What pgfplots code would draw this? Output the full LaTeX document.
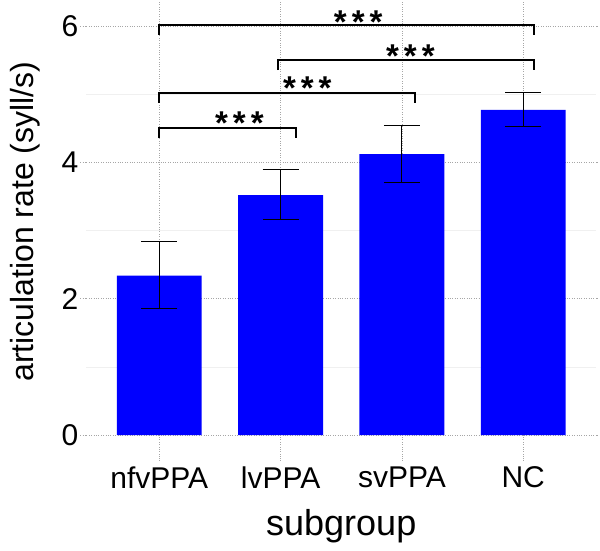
\documentclass[border=0pt]{standalone}
\usepackage{fontspec}
\setmainfont{Liberation Sans}
\usepackage{pgfplots}
\pgfplotsset{compat=1.18}
\newcommand{\stars}{\fontsize{33bp}{34bp}\selectfont\bfseries *\hspace{5bp}*\hspace{5bp}*}
\begin{document}
\begin{tikzpicture}
\useasboundingbox (-86.5bp,-95.9bp) rectangle (513.5bp,454.2bp);
\begin{axis}[
  scale only axis, width=509.5bp, height=454.2bp,
  xmin=0.4, xmax=4.6, ymin=-0.28, ymax=6.38,
  axis line style={draw=none},
  xtick={1,2,3,4}, xticklabels={nfvPPA,lvPPA,svPPA,NC},
  ytick={0,2,4,6}, minor ytick={1,3,5},
  ymajorgrids, yminorgrids, xmajorgrids,
  major grid style={dotted, gray!70, line width=0.7bp},
  minor grid style={gray!12, line width=0.5bp},
  tick align=outside, major tick length=6bp, minor tick length=0bp,
  tick style={dotted, gray!70, line width=0.7bp},
  tick label style={font=\fontsize{30bp}{34bp}\selectfont, text=black},
  /pgf/number format/assume math mode=true,
  xticklabel style={inner sep=2bp, yshift=-4bp},
  yticklabel style={inner sep=2bp},
  xlabel={subgroup}, ylabel={articulation rate (syll/s)},
  xlabel style={font=\fontsize{36bp}{40bp}\selectfont, at={(axis description cs:0.5,0)}, anchor=center, yshift=-72bp},
  ylabel style={font=\fontsize{32bp}{36bp}\selectfont, at={(axis description cs:0,0.512)}, anchor=center, yshift=61.5bp},
  clip=false,
]
\addplot[ybar, bar width=0.7, fill={rgb,255:red,0;green,0;blue,255}, draw=none,
  error bars/.cd, y dir=both, y explicit,
  error mark=|,
  error bar style={draw=black, solid, line width=0.9bp},
  error mark options={draw=black, solid, line width=0.9bp, mark size=18bp}]
  table[x=x, y=y, y error plus=ep, y error minus=em] {
x y ep em
1 2.34 0.50 0.49
2 3.52 0.37 0.36
3 4.12 0.42 0.41
4 4.77 0.26 0.25
};
% significance brackets
\addplot[black, line width=2bp, sharp plot, mark=none] coordinates {(1.0,5.87) (1.0,6.01) (4.09,6.01) (4.09,5.87)};
\addplot[black, line width=2bp, sharp plot, mark=none] coordinates {(1.98,5.35) (1.98,5.50) (4.09,5.50) (4.09,5.35)};
\addplot[black, line width=2bp, sharp plot, mark=none] coordinates {(1.0,4.87) (1.0,5.01) (3.11,5.01) (3.11,4.87)};
\addplot[black, line width=2bp, sharp plot, mark=none] coordinates {(1.0,4.35) (1.0,4.50) (2.13,4.50) (2.13,4.35)};
\node[anchor=north, inner sep=0pt] at (axis cs:2.64,6.23) {\stars};
\node[anchor=north, inner sep=0pt] at (axis cs:3.07,5.72) {\stars};
\node[anchor=north, inner sep=0pt] at (axis cs:2.22,5.25) {\stars};
\node[anchor=north, inner sep=0pt] at (axis cs:1.66,4.75) {\stars};
\end{axis}
\end{tikzpicture}
\end{document}
